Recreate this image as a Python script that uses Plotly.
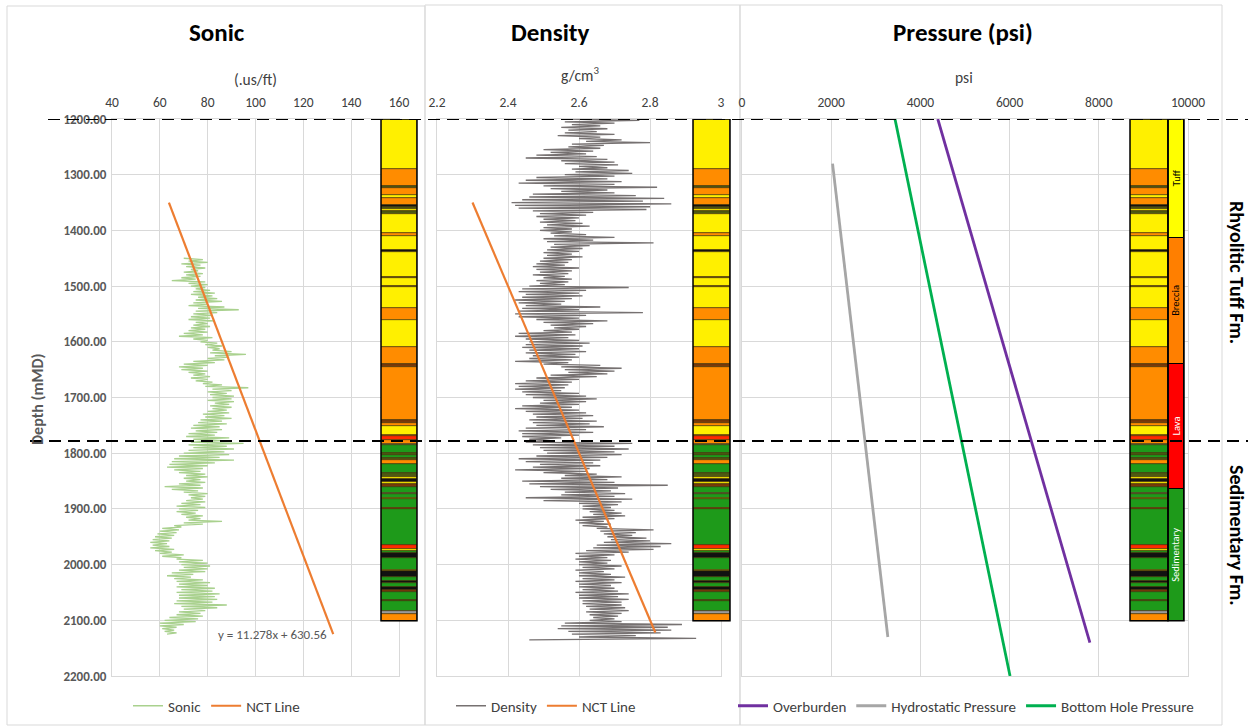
import plotly.graph_objects as go

# ---------------- data ----------------
sonic_top_depth = 1450      # first sample depth (m)
sonic_step = 2.5            # sample interval (m)
sonic_values = [
    70, 78, 72, 80, 69, 77, 71, 79, 73, 76, 70, 78, 71, 77, 69, 75, 65, 79, 72, 80,
    73, 79, 75, 81, 74, 83, 73, 82, 76, 84, 75, 86, 74, 80, 72, 87, 76, 93, 75, 84,
    74, 82, 73, 81, 72, 83, 75, 80, 74, 81, 73, 79, 72, 80, 70, 78, 68, 82, 74, 80,
    77, 84, 79, 86, 80, 85, 82, 90, 81, 96, 83, 89, 80, 87, 74, 83, 70, 80, 68, 78,
    69, 80, 72, 79, 74, 81, 73, 80, 75, 82, 78, 86, 79, 97, 82, 90, 80, 88, 81, 91,
    82, 90, 80, 91, 83, 89, 81, 90, 82, 88, 80, 89, 78, 87, 79, 90, 77, 86, 76, 88,
    74, 85, 73, 86, 75, 84, 72, 83, 71, 89, 74, 86, 73, 95, 72, 88, 74, 91, 72, 87,
    70, 89, 68, 85, 66, 91, 65, 83, 64, 80, 63, 78, 66, 77, 68, 79, 71, 80, 70, 77,
    71, 79, 68, 77, 62, 78, 65, 76, 70, 80, 72, 79, 73, 78, 71, 79, 69, 77, 67, 79,
    68, 76, 67, 75, 69, 78, 71, 77, 72, 86, 70, 78, 66, 69, 61, 68, 60, 67, 59, 66,
    58, 65, 57, 64, 56, 63, 57, 64, 56, 66, 58, 65, 60, 70, 61, 69, 67, 78, 68, 80,
    69, 81, 70, 80, 68, 79, 65, 74, 63, 73, 66, 78, 67, 81, 68, 80, 67, 83, 69, 82,
    67, 85, 68, 83, 68, 84, 67, 82, 66, 88, 69, 84, 70, 79, 68, 77, 67, 78, 64, 76,
    62, 75, 60, 70, 60, 67, 61, 66, 62, 67, 63,
]

density_top_depth = 1200
density_step = 2.5
density_values = [
    2.57, 2.77, 2.56, 2.70, 2.58, 2.66, 2.55, 2.68, 2.57, 2.65, 2.56, 2.70, 2.54, 2.66, 2.60, 2.72, 2.62, 2.80, 2.58, 2.67,
    2.57, 2.66, 2.50, 2.64, 2.52, 2.62, 2.48, 2.65, 2.45, 2.68, 2.55, 2.70, 2.56, 2.71, 2.60, 2.68, 2.58, 2.74, 2.59, 2.75,
    2.56, 2.70, 2.48, 2.68, 2.45, 2.72, 2.43, 2.70, 2.50, 2.82, 2.52, 2.68, 2.55, 2.70, 2.47, 2.76, 2.46, 2.84, 2.44, 2.78,
    2.41, 2.86, 2.42, 2.80, 2.43, 2.79, 2.47, 2.64, 2.49, 2.62, 2.48, 2.60, 2.50, 2.59, 2.49, 2.61, 2.51, 2.63, 2.50, 2.58,
    2.49, 2.58, 2.52, 2.62, 2.53, 2.70, 2.50, 2.64, 2.51, 2.81, 2.53, 2.63, 2.52, 2.61, 2.51, 2.60, 2.50, 2.58, 2.51, 2.61,
    2.50, 2.58, 2.49, 2.57, 2.48, 2.56, 2.47, 2.60, 2.48, 2.58, 2.49, 2.57, 2.47, 2.56, 2.50, 2.58, 2.48, 2.57, 2.49, 2.56,
    2.46, 2.74, 2.44, 2.62, 2.43, 2.60, 2.45, 2.61, 2.44, 2.58, 2.42, 2.56, 2.43, 2.55, 2.45, 2.66, 2.44, 2.60, 2.43, 2.78,
    2.42, 2.62, 2.43, 2.60, 2.48, 2.68, 2.50, 2.64, 2.52, 2.62, 2.53, 2.60, 2.50, 2.58, 2.43, 2.59, 2.42, 2.57, 2.45, 2.60,
    2.46, 2.63, 2.45, 2.61, 2.44, 2.60, 2.46, 2.62, 2.45, 2.59, 2.47, 2.60, 2.46, 2.58, 2.42, 2.57, 2.50, 2.66, 2.55, 2.72,
    2.56, 2.70, 2.57, 2.68, 2.52, 2.65, 2.48, 2.60, 2.45, 2.58, 2.42, 2.57, 2.43, 2.56, 2.42, 2.55, 2.44, 2.60, 2.45, 2.62,
    2.47, 2.65, 2.50, 2.62, 2.49, 2.60, 2.44, 2.58, 2.42, 2.60, 2.45, 2.62, 2.47, 2.64, 2.48, 2.61, 2.46, 2.65, 2.47, 2.63,
    2.48, 2.67, 2.45, 2.62, 2.43, 2.64, 2.44, 2.60, 2.44, 2.55, 2.46, 2.52, 2.45, 2.75, 2.47, 2.70, 2.49, 2.74, 2.50, 2.70,
    2.51, 2.72, 2.48, 2.68, 2.43, 2.66, 2.45, 2.64, 2.49, 2.66, 2.47, 2.63, 2.42, 2.62, 2.50, 2.65, 2.56, 2.72, 2.55, 2.68,
    2.44, 2.70, 2.46, 2.85, 2.49, 2.71, 2.52, 2.69, 2.56, 2.73, 2.55, 2.70, 2.45, 2.75, 2.50, 2.72, 2.60, 2.71, 2.61, 2.69,
    2.61, 2.70, 2.63, 2.72, 2.64, 2.73, 2.61, 2.70, 2.59, 2.67, 2.60, 2.69, 2.61, 2.68, 2.65, 2.81, 2.66, 2.76, 2.67, 2.75,
    2.68, 2.79, 2.69, 2.80, 2.67, 2.86, 2.65, 2.83, 2.64, 2.81, 2.62, 2.74, 2.59, 2.70, 2.60, 2.68, 2.59, 2.69, 2.60, 2.68,
    2.60, 2.72, 2.61, 2.70, 2.59, 2.67, 2.60, 2.69, 2.60, 2.73, 2.61, 2.70, 2.59, 2.72, 2.60, 2.69, 2.60, 2.70, 2.61, 2.71,
    2.59, 2.74, 2.60, 2.71, 2.60, 2.74, 2.61, 2.72, 2.61, 2.72, 2.62, 2.73, 2.63, 2.74, 2.62, 2.72, 2.63, 2.71, 2.64, 2.70,
    2.63, 2.72, 2.56, 2.89, 2.55, 2.85, 2.54, 2.86, 2.57, 2.83, 2.58, 2.76, 2.60, 2.93, 2.46,
]

nct_sonic_x = [63.8, 132.5]
nct_sonic_depth = [1350, 2125]
nct_sonic_equation = "y = 11.278x + 630.56"

nct_density_x = [2.30, 2.815]
nct_density_depth = [1350, 2122]

overburden_psi = [4390, 7800]
overburden_depth = [1200, 2140]
hydrostatic_psi = [2030, 3270]
hydrostatic_depth = [1280, 2130]
bhp_psi = [3430, 6010]
bhp_depth = [1200, 2200]

# lithology column (top depth of each bed, code); last bed ends at litho_bottom
litho_tops = [
    1200, 1290, 1321, 1324, 1336, 1341, 1354, 1358, 1362, 1366,
    1370, 1405, 1410, 1436, 1438, 1483, 1485, 1499, 1501, 1540,
    1561, 1610, 1639, 1646, 1740, 1745, 1752, 1767, 1770, 1776,
    1783, 1785, 1800, 1803, 1809, 1812, 1819, 1836, 1842, 1846,
    1852, 1856, 1860, 1871, 1873, 1880, 1882, 1898, 1901, 1965,
    1972, 1975, 1980, 1989, 2009, 2012, 2022, 2030, 2033, 2041,
    2046, 2049, 2064, 2066, 2084, 2088,
]
litho_codes = [
    "Y", "O", "L", "O", "Y", "O", "K", "L", "Y", "L",
    "Y", "O", "Y", "K", "Y", "B", "Y", "B", "Y", "O",
    "Y", "O", "B", "O", "B", "O", "Y", "O", "R", "O",
    "S", "G", "L", "G", "L", "O", "G", "L", "Y", "K",
    "Y", "B", "G", "S", "G", "Y", "G", "R", "G", "R",
    "Y", "G", "K", "G", "Y", "K", "G", "K", "G", "K",
    "B", "G", "L", "G", "S", "O",
]
litho_bottom = 2101

formation_names = ["Tuff", "Breccia", "Lava", "Sedimentary"]
formation_top = [1200, 1413, 1640, 1864]
formation_base = [1413, 1640, 1864, 2101]

marker_depths = [1200, 1778]
zone_labels = ["Rhyolitic Tuff Fm.", "Sedimentary Fm."]

sonic_depth = [sonic_top_depth + sonic_step * i for i in range(len(sonic_values))]
density_depth = [density_top_depth + density_step * i for i in range(len(density_values))]

# ---------------- styling ----------------
F = "Carlito, Lato, 'Open Sans', sans-serif"
W, H = 1248, 726
GRID = "#d9d9d9"
TXT = "#404040"

litho_palette = {
    "Y": "#FFF000", "O": "#FF8C00", "G": "#1E9A1A", "R": "#FF2A00",
    "K": "#111111", "B": "#7A3A0A", "L": "#4E5A12", "S": "#9A9A9A",
}
formation_palette = ["#FFFF00", "#FF7F00", "#FF0000", "#1E9A1A"]
formation_text_col = ["#000000", "#000000", "#FFFFFF", "#FFFFFF"]


def px(x):
    return x / W


def py(y):
    return 1 - y / H


Y_DOM = [py(676), py(119)]

fig = go.Figure()

# data curves
fig.add_trace(go.Scatter(x=sonic_values, y=sonic_depth, mode="lines", name="Sonic",
                         line=dict(color="#A9D18E", width=1.3),
                         xaxis="x", yaxis="y", legend="legend"))
fig.add_trace(go.Scatter(x=nct_sonic_x, y=nct_sonic_depth, mode="lines", name="NCT Line",
                         line=dict(color="#ED7D31", width=2.2), xaxis="x", yaxis="y",
                         legend="legend"))
fig.add_trace(go.Scatter(x=density_values, y=density_depth, mode="lines", name="Density",
                         line=dict(color="#767171", width=1.3),
                         xaxis="x2", yaxis="y2", legend="legend2"))
fig.add_trace(go.Scatter(x=nct_density_x, y=nct_density_depth, mode="lines", name="NCT Line",
                         line=dict(color="#ED7D31", width=2.2), xaxis="x2", yaxis="y2",
                         legend="legend2"))
fig.add_trace(go.Scatter(x=overburden_psi, y=overburden_depth, mode="lines", name="Overburden",
                         line=dict(color="#7030A0", width=2.8), xaxis="x3", yaxis="y3",
                         legend="legend3"))
fig.add_trace(go.Scatter(x=hydrostatic_psi, y=hydrostatic_depth, mode="lines",
                         name="Hydrostatic Pressure",
                         line=dict(color="#A6A6A6", width=2.8), xaxis="x3", yaxis="y3",
                         legend="legend3"))
fig.add_trace(go.Scatter(x=bhp_psi, y=bhp_depth, mode="lines", name="Bottom Hole Pressure",
                         line=dict(color="#00B050", width=2.8), xaxis="x3", yaxis="y3",
                         legend="legend3"))

# lithology columns
litho_bases = litho_tops[1:] + [litho_bottom]
litho_thick = [b - t for t, b in zip(litho_tops, litho_bases)]
litho_colors = [litho_palette[c] for c in litho_codes]
for ax in ["x4", "x5", "x6"]:
    fig.add_trace(go.Bar(x=[0.5] * len(litho_tops), y=litho_thick, base=litho_tops,
                         width=1, marker=dict(color=litho_colors,
                                              line=dict(color="#3d2b00", width=0.6)),
                         xaxis=ax, yaxis="y4", showlegend=False, hoverinfo="skip"))
form_thick = [b - t for t, b in zip(formation_top, formation_base)]
fig.add_trace(go.Bar(x=[0.5] * len(formation_top), y=form_thick, base=formation_top,
                     width=1, marker=dict(color=formation_palette,
                                          line=dict(color="#000000", width=1)),
                     xaxis="x7", yaxis="y4", showlegend=False, hoverinfo="skip"))

shapes = []
# column outlines
for ax in ["x4", "x5", "x6", "x7"]:
    shapes.append(dict(type="rect", xref=f"{ax} domain", yref="y4", x0=0, x1=1,
                       y0=litho_tops[0], y1=litho_bottom,
                       line=dict(color="#000000", width=1.5), layer="above"))
# panel borders
for (x0, y0, x1, y1) in [(7, 6, 425, 725), (425, 5, 740, 725), (740, 5, 1222, 725)]:
    shapes.append(dict(type="rect", xref="paper", yref="paper", x0=px(x0), x1=px(x1),
                       y0=py(y1), y1=py(y0), line=dict(color=GRID, width=1),
                       layer="below"))
# formation marker dashed lines
for d, xs in zip(marker_depths, [48, 30]):
    shapes.append(dict(type="line", xref="paper", yref="y", x0=px(xs), x1=1, y0=d, y1=d,
                       line=dict(color="#000000", width=2, dash="12px,7px"),
                       layer="above"))


def ann(text, x, y, size, color=TXT, angle=0, xref="paper", yref="paper"):
    return dict(text=text, x=x, y=y, xref=xref, yref=yref, showarrow=False,
                xanchor="center", yanchor="middle", textangle=angle,
                font=dict(family=F, size=size, color=color))


annotations = []
for txt, xc in [("Sonic", 217), ("Density", 550), ("Pressure (psi)", 963)]:
    annotations.append(ann(f"<b>{txt}</b>", px(xc), py(33), 25, "#000000"))
for txt, xc, yc in [("(.us/ft)", 255, 79), ("g/cm<sup>3</sup>", 580, 75), ("psi", 964, 78)]:
    annotations.append(ann(txt, px(xc), py(yc), 15.5))
annotations.append(ann("<b>Depth (mMD)</b>", px(37), py(400), 16, "#595959", -90))
annotations.append(ann(nct_sonic_equation, px(272), py(634), 13, "#595959"))
for txt, yc in zip(zone_labels, [272, 535]):
    annotations.append(ann(f"<b>{txt}</b>", px(1237), py(yc), 20, "#000000", 90))
for name, t, b, col in zip(formation_names, formation_top, formation_base, formation_text_col):
    annotations.append(ann(name, 0.5, (t + b) / 2, 10.5, col, -90, xref="x7", yref="y4"))

common = dict(showgrid=True, gridcolor=GRID, gridwidth=1, zeroline=False, showline=True,
              linecolor=GRID, linewidth=1, mirror=True, ticks="", automargin=False,
              tickfont=dict(family=F, size=13.5, color=TXT))
xc_ = dict(common, side="top", ticklabelstandoff=6)
yc = dict(common, domain=Y_DOM, range=[2200, 1200], dtick=100, tick0=1200,
          ticklabelstandoff=2)
hidden_x = dict(visible=False, range=[0, 1], anchor="y4", automargin=False)

legend_base = dict(orientation="h", yanchor="middle", y=py(706), xanchor="left",
                   bgcolor="rgba(0,0,0,0)", font=dict(family=F, size=15, color=TXT),
                   itemwidth=30, tracegroupgap=0)

fig.update_layout(
    template="none",
    width=W, height=H, margin=dict(l=0, r=0, t=0, b=0, pad=0, autoexpand=False),
    paper_bgcolor="white", plot_bgcolor="rgba(0,0,0,0)",
    font=dict(family=F, color=TXT),
    barmode="overlay", bargap=0,
    xaxis=dict(xc_, domain=[px(112), px(399)], range=[40, 160], dtick=20, tick0=40,
               anchor="y"),
    yaxis=dict(yc, anchor="x", tickformat=".2f",
               tickfont=dict(family=F, size=13, color="#595959", weight="bold")),
    xaxis2=dict(xc_, domain=[px(437), px(721)], range=[2.2, 3.0], dtick=0.2, tick0=2.2,
                anchor="y2"),
    yaxis2=dict(yc, anchor="x2", showticklabels=False, matches="y"),
    xaxis3=dict(xc_, domain=[px(742), px(1188)], range=[0, 10000], dtick=2000, tick0=0,
                tickformat="d", anchor="y3"),
    yaxis3=dict(yc, anchor="x3", showticklabels=False, matches="y"),
    yaxis4=dict(domain=Y_DOM, range=[2200, 1200], visible=False, anchor="x4",
                matches="y", automargin=False),
    xaxis4=dict(hidden_x, domain=[px(381), px(417)]),
    xaxis5=dict(hidden_x, domain=[px(693), px(730)]),
    xaxis6=dict(hidden_x, domain=[px(1130), px(1168)]),
    xaxis7=dict(hidden_x, domain=[px(1168), px(1184)]),
    legend=dict(legend_base, x=px(128)),
    legend2=dict(legend_base, x=px(451)),
    legend3=dict(legend_base, x=px(733)),
    shapes=shapes,
    annotations=annotations,
    hovermode=False,
)

fig.write_html("out.html", config={"displayModeBar": False},
               post_script="document.body.style.margin='0';document.body.style.overflow='hidden';")
